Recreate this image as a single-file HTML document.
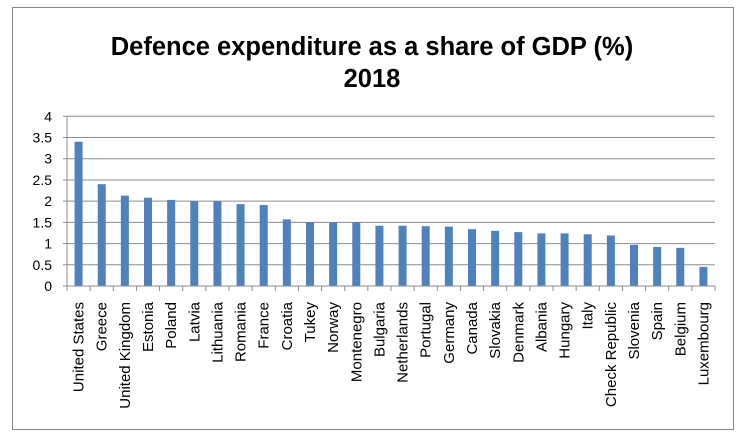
<!DOCTYPE html>
<html><head><meta charset="utf-8"><style>
html,body{margin:0;padding:0;background:#fff;width:742px;height:436px;overflow:hidden}
svg{display:block;font-family:"Liberation Sans",Calibri,sans-serif}
</style></head><body>
<svg id="chart" width="742" height="436">
<rect x="12.5" y="7.5" width="721" height="422" fill="#fff" stroke="#868686" stroke-width="1"/>
<text x="372" y="55" text-anchor="middle" font-size="25.5" font-weight="bold" fill="#000">Defence expenditure as a share of GDP (%)</text>
<text x="372" y="87" text-anchor="middle" font-size="25.5" font-weight="bold" fill="#000">2018</text>
<g id="grid"></g><g id="bars"></g><g id="axes"></g>
</svg>
<script>
const categories=["United States","Greece","United Kingdom","Estonia","Poland","Latvia","Lithuania","Romania","France","Croatia","Tukey","Norway","Montenegro","Bulgaria","Netherlands","Portugal","Germany","Canada","Slovakia","Denmark","Albania","Hungary","Italy","Check Republic","Slovenia","Spain","Belgium","Luxembourg"];
const values=[3.4,2.4,2.13,2.08,2.03,2.0,2.0,1.93,1.91,1.57,1.5,1.5,1.5,1.42,1.42,1.41,1.4,1.34,1.3,1.27,1.24,1.24,1.22,1.19,0.97,0.92,0.9,0.45];
const yTicks=[0,0.5,1,1.5,2,2.5,3,3.5,4];
const yTickLabels=["0","0.5","1","1.5","2","2.5","3","3.5","4"];
const NS="http://www.w3.org/2000/svg";
const X0=67,X1=715,Y0=286,Y1=116.3,YMAX=4;
const bw=(X1-X0)/categories.length;
const y=v=>Y0-(v/YMAX)*(Y0-Y1);
const xc=i=>X0+bw*(i+0.5);
function mk(t,a,p){const e=document.createElementNS(NS,t);for(const k in a)e.setAttribute(k,a[k]);p.appendChild(e);return e;}
const grid=document.getElementById('grid'),bars=document.getElementById('bars'),axes=document.getElementById('axes');
yTicks.forEach((t,i)=>{
  if(t>0){const l=mk('line',{x1:X0,x2:X1,y1:y(t),y2:y(t),stroke:'#8c8c8c','stroke-width':1},grid);
  
  }
  const tk=mk('line',{x1:X0-4,x2:X0,y1:y(t),y2:y(t),stroke:'#8c8c8c'},axes);
  
  
  const tx=mk('text',{x:52,y:y(t)+5,'text-anchor':'end','font-size':14,fill:'#000'},axes);
  tx.textContent=yTickLabels[i];
  
  
});
const ya=mk('line',{x1:X0,x2:X0,y1:Y1,y2:Y0,stroke:'#8c8c8c'},axes);


const xa=mk('line',{x1:X0,x2:X1,y1:Y0,y2:Y0,stroke:'#8c8c8c'},axes);


categories.forEach((c,i)=>{
  const b=mk('rect',{x:xc(i)-4,y:y(values[i]),width:8,height:Y0-y(values[i]),fill:'#4f81bd'},bars);
  
  
  const tk=mk('line',{x1:X0+bw*i,x2:X0+bw*i,y1:Y0,y2:Y0+5,stroke:'#8c8c8c'},axes);
  
  
  const t=mk('text',{transform:`translate(${xc(i)+5},302) rotate(-90)`,'text-anchor':'end','font-size':15,fill:'#000'},axes);
  t.textContent=c;
  
  
});
const lt=mk('line',{x1:X1,x2:X1,y1:Y0,y2:Y0+5,stroke:'#8c8c8c'},axes);


</script>
</body></html>
